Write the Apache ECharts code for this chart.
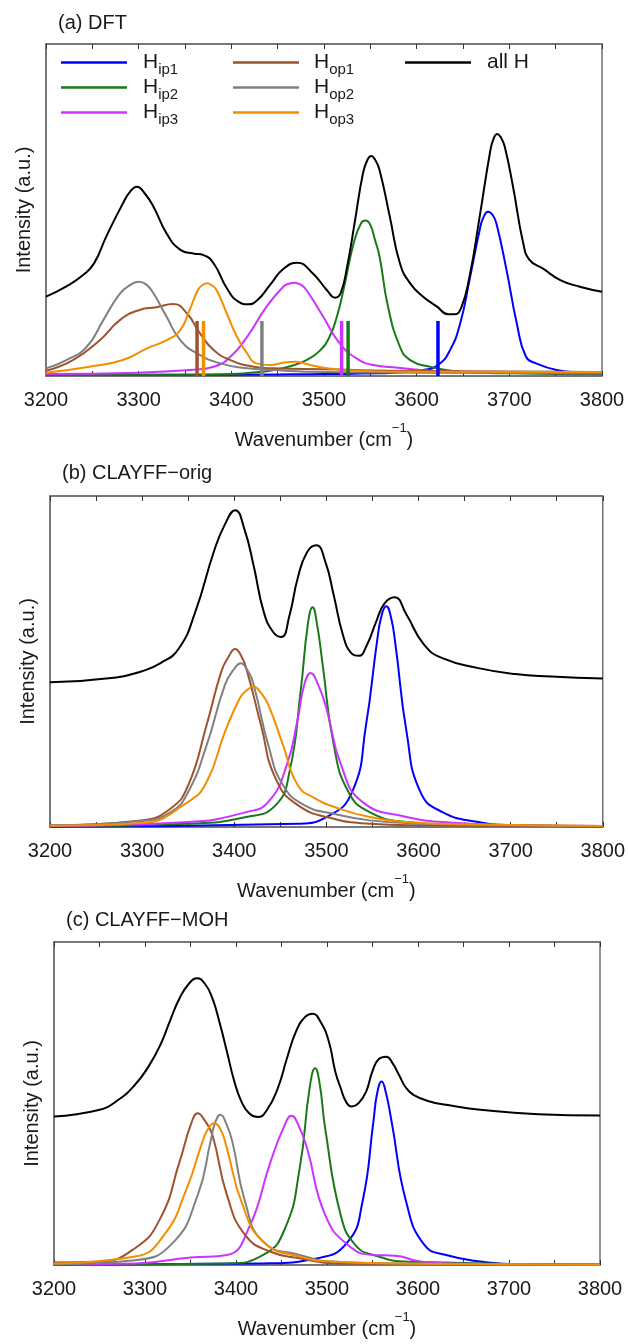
<!DOCTYPE html>
<html>
<head>
<meta charset="utf-8">
<script src="https://cdn.jsdelivr.net/npm/echarts@6/dist/echarts.min.js"></script>
<style>
html,body{margin:0;padding:0;background:#fff;}
#chart{width:628px;height:1344px;}
</style>
</head>
<body>
<div id="chart"></div>
<script>
// ---------- data ----------
const xMin = 3200, xMax = 3800, xStep = 50;
const panelTitles = ['(a) DFT', '(b) CLAYFF\u2212orig', '(c) CLAYFF\u2212MOH'];
const xAxisTitle = 'Wavenumber (cm';
const xAxisTitleSup = '\u22121';
const yAxisTitle = 'Intensity (a.u.)';
const seriesNames = ['Hip1', 'Hip2', 'Hip3', 'Hop1', 'Hop2', 'Hop3', 'all H'];

// Panel (a) DFT
const dftHip1 = [[3200,0.004],[3400,0.004],[3500,0.006],[3560,0.008],[3607,0.018],[3623,0.033],[3636,0.078],[3647,0.159],[3657,0.289],[3668,0.44],[3672,0.478],[3677,0.495],[3682,0.485],[3686,0.46],[3697,0.319],[3708,0.159],[3718,0.058],[3729,0.038],[3751,0.018],[3776,0.01],[3800,0.008]];
const dftHip2 = [[3200,0.003],[3350,0.004],[3400,0.006],[3430,0.012],[3450,0.02],[3470,0.035],[3481,0.048],[3495,0.075],[3506,0.118],[3514,0.18],[3521,0.259],[3532,0.40],[3540,0.46],[3545,0.468],[3550,0.455],[3555,0.41],[3560,0.359],[3569,0.21],[3582,0.088],[3593,0.048],[3614,0.028],[3650,0.013],[3700,0.008],[3800,0.005]];
const dftHip3 = [[3200,0.006],[3301,0.01],[3355,0.018],[3381,0.028],[3399,0.058],[3417,0.118],[3438,0.209],[3456,0.269],[3462,0.278],[3468,0.281],[3475,0.275],[3481,0.259],[3499,0.179],[3517,0.098],[3535,0.053],[3553,0.033],[3580,0.025],[3620,0.015],[3700,0.01],[3800,0.008]];
const dftHop1 = [[3200,0.016],[3229,0.048],[3258,0.108],[3280,0.169],[3301,0.199],[3319,0.207],[3337,0.217],[3352,0.189],[3366,0.129],[3381,0.078],[3399,0.048],[3424,0.028],[3445,0.023],[3500,0.02],[3600,0.015],[3800,0.012]];
const dftHop2 = [[3200,0.023],[3222,0.048],[3244,0.088],[3262,0.169],[3280,0.249],[3292,0.276],[3300,0.284],[3308,0.276],[3316,0.249],[3330,0.179],[3345,0.108],[3363,0.068],[3388,0.038],[3417,0.023],[3445,0.018],[3481,0.013],[3600,0.01],[3800,0.008]];
const dftHop3 = [[3200,0.01],[3247,0.028],[3283,0.048],[3309,0.083],[3332,0.11],[3345,0.139],[3355,0.199],[3364,0.259],[3369,0.274],[3374,0.279],[3379,0.273],[3384,0.259],[3395,0.189],[3406,0.118],[3417,0.068],[3427,0.038],[3442,0.033],[3456,0.04],[3469,0.043],[3481,0.036],[3503,0.023],[3535,0.016],[3600,0.013],[3800,0.012]];
const dftAllH = [[3200,0.239],[3222,0.27],[3240,0.304],[3252,0.34],[3265,0.42],[3283,0.52],[3291,0.556],[3298,0.570],[3306,0.552],[3316,0.51],[3330,0.43],[3345,0.38],[3359,0.369],[3370,0.364],[3381,0.339],[3395,0.265],[3408,0.223],[3418,0.216],[3428,0.228],[3442,0.275],[3456,0.322],[3471,0.341],[3488,0.309],[3503,0.259],[3512,0.236],[3518,0.25],[3525,0.33],[3533,0.46],[3542,0.61],[3547,0.652],[3551,0.663],[3555,0.652],[3560,0.62],[3571,0.48],[3582,0.339],[3593,0.279],[3607,0.239],[3622,0.209],[3634,0.186],[3641,0.186],[3648,0.205],[3657,0.299],[3668,0.48],[3679,0.671],[3683,0.715],[3687,0.729],[3691,0.718],[3695,0.691],[3704,0.57],[3715,0.4],[3722,0.349],[3736,0.324],[3755,0.289],[3776,0.269],[3800,0.254]];
// DFT stick spectrum (positions and owning series)
const stickPositions = [3363, 3370, 3433, 3519, 3526, 3623];
const stickOwners = ['Hop1', 'Hop3', 'Hop2', 'Hip3', 'Hip2', 'Hip1'];
const stickHeight = 0.166;

// Panel (b) CLAYFF-orig
const origHip1 = [[3200,0.001],[3469,0.01],[3500,0.03],[3528,0.106],[3543,0.308],[3555,0.561],[3560,0.64],[3565,0.667],[3570,0.635],[3575,0.551],[3587,0.288],[3602,0.106],[3626,0.045],[3665,0.015],[3705,0.005],[3800,0.002]];
const origHip2 = [[3200,0.002],[3350,0.01],[3413,0.03],[3445,0.066],[3460,0.167],[3472,0.409],[3480,0.615],[3485,0.664],[3490,0.61],[3496,0.49],[3508,0.248],[3524,0.106],[3547,0.045],[3587,0.015],[3650,0.006],[3800,0.002]];
const origHip3 = [[3200,0.003],[3350,0.015],[3413,0.045],[3437,0.076],[3457,0.187],[3469,0.328],[3476,0.43],[3483,0.465],[3491,0.43],[3500,0.359],[3516,0.187],[3539,0.076],[3587,0.03],[3626,0.015],[3700,0.006],[3800,0.003]];
const origHop1 = [[3200,0.005],[3299,0.02],[3331,0.056],[3350,0.126],[3370,0.308],[3386,0.47],[3394,0.515],[3401,0.538],[3407,0.52],[3413,0.48],[3429,0.308],[3445,0.146],[3469,0.066],[3508,0.025],[3547,0.01],[3600,0.005],[3800,0.002]];
const origHop2 = [[3200,0.005],[3299,0.018],[3331,0.045],[3350,0.106],[3370,0.247],[3390,0.43],[3400,0.478],[3407,0.495],[3414,0.475],[3421,0.43],[3437,0.247],[3453,0.126],[3476,0.066],[3508,0.04],[3547,0.02],[3600,0.01],[3800,0.003]];
const origHop3 = [[3200,0.004],[3299,0.012],[3350,0.076],[3370,0.136],[3390,0.288],[3406,0.389],[3413,0.412],[3421,0.424],[3429,0.405],[3437,0.369],[3453,0.247],[3469,0.126],[3488,0.086],[3508,0.061],[3547,0.03],[3587,0.015],[3650,0.008],[3800,0.003]];
const origAllH = [[3200,0.437],[3272,0.452],[3299,0.47],[3320,0.495],[3340,0.54],[3358,0.652],[3378,0.833],[3390,0.915],[3401,0.957],[3411,0.9],[3421,0.79],[3432,0.65],[3442,0.59],[3451,0.574],[3460,0.64],[3469,0.753],[3479,0.83],[3489,0.851],[3499,0.8],[3508,0.7],[3518,0.58],[3527,0.525],[3535,0.517],[3544,0.55],[3554,0.62],[3563,0.675],[3574,0.694],[3587,0.641],[3606,0.551],[3626,0.51],[3665,0.48],[3705,0.462],[3744,0.455],[3800,0.449]];

// Panel (c) CLAYFF-MOH
const mohHip1 = [[3200,0.001],[3430,0.005],[3490,0.021],[3523,0.072],[3539,0.196],[3551,0.444],[3555,0.53],[3560,0.568],[3565,0.53],[3571,0.444],[3587,0.196],[3607,0.062],[3631,0.031],[3671,0.01],[3710,0.002],[3800,0.001]];
const mohHip2 = [[3200,0.001],[3390,0.005],[3430,0.031],[3454,0.114],[3470,0.3],[3481,0.55],[3487,0.609],[3492,0.56],[3498,0.423],[3515,0.155],[3531,0.062],[3551,0.031],[3590,0.01],[3800,0.001]];
const mohHip3 = [[3200,0.002],[3289,0.005],[3350,0.023],[3390,0.031],[3414,0.114],[3438,0.32],[3453,0.43],[3461,0.462],[3469,0.43],[3478,0.362],[3498,0.155],[3523,0.062],[3551,0.031],[3575,0.029],[3600,0.012],[3631,0.005],[3800,0.001]];
const mohHop1 = [[3200,0.008],[3249,0.01],[3289,0.052],[3317,0.145],[3338,0.32],[3351,0.44],[3358,0.47],[3365,0.45],[3374,0.403],[3390,0.217],[3410,0.093],[3438,0.041],[3470,0.021],[3510,0.005],[3600,0.003],[3800,0.001]];
const mohHop2 = [[3200,0.003],[3289,0.015],[3330,0.067],[3358,0.217],[3372,0.382],[3377,0.44],[3383,0.465],[3389,0.44],[3396,0.382],[3410,0.196],[3430,0.072],[3470,0.031],[3510,0.01],[3600,0.004],[3800,0.001]];
const mohHop3 = [[3200,0.005],[3289,0.026],[3321,0.093],[3346,0.238],[3362,0.372],[3369,0.42],[3376,0.439],[3383,0.42],[3390,0.361],[3406,0.196],[3430,0.072],[3470,0.026],[3510,0.01],[3600,0.004],[3800,0.001]];
const mohAllH = [[3200,0.46],[3249,0.48],[3270,0.51],[3289,0.558],[3304,0.615],[3317,0.682],[3328,0.76],[3338,0.826],[3348,0.87],[3357,0.888],[3366,0.87],[3374,0.826],[3382,0.75],[3390,0.661],[3398,0.57],[3406,0.506],[3415,0.468],[3424,0.458],[3434,0.48],[3446,0.548],[3456,0.64],[3466,0.723],[3476,0.768],[3484,0.778],[3493,0.752],[3502,0.692],[3509,0.6],[3515,0.548],[3521,0.505],[3527,0.491],[3535,0.502],[3543,0.537],[3550,0.6],[3557,0.638],[3565,0.645],[3572,0.625],[3579,0.589],[3587,0.548],[3595,0.527],[3612,0.507],[3631,0.496],[3671,0.48],[3732,0.467],[3800,0.463]];

const panelData = [
  [dftHip1, dftHip2, dftHip3, dftHop1, dftHop2, dftHop3, dftAllH],
  [origHip1, origHip2, origHip3, origHop1, origHop2, origHop3, origAllH],
  [mohHip1, mohHip2, mohHip3, mohHop1, mohHop2, mohHop3, mohAllH]
];

// ---------- styles ----------
const colorMap = {Hip1:'#0000ff', Hip2:'#1a7a1a', Hip3:'#cc33ff', Hop1:'#a0522d', Hop2:'#808080', Hop3:'#f28e00', 'all H':'#000000'};
const FONT = '"Liberation Sans", Arial, Helvetica, sans-serif';
const TXT = '#1a1a1a';
const FRAME = '#707070';
const grids = [
  {left:46, top:44, width:556, height:332},
  {left:50, top:496, width:555, height:331},
  {left:54, top:942, width:546, height:323}
];
const titlePos = [{left:58, top:13}, {left:62, top:463}, {left:66, top:910}];

const chart = echarts.init(document.getElementById('chart'), null, {renderer:'canvas'});

const xAxes = [], yAxes = [], series = [];
grids.forEach((g, i) => {
  xAxes.push({
    type:'value', gridIndex:i, min:xMin, max:xMax, interval:xStep, position:'bottom',
    axisLine:{show:true, lineStyle:{color:FRAME, width:1.5}},
    axisTick:{show:true, inside:true, length:5, lineStyle:{color:'#333', width:1}},
    axisLabel:{show:true, margin:14, fontSize:20, color:TXT, fontFamily:FONT,
      formatter: v => (v % 100 === 0 ? String(v) : '')},
    splitLine:{show:false},
    name: '{n|' + xAxisTitle + '}{sup|' + xAxisTitleSup + '}{n|)}',
    nameLocation:'middle', nameGap:46,
    nameTextStyle:{fontFamily:FONT, color:TXT, rich:{
      n:{fontSize:20, fontFamily:FONT, color:TXT, lineHeight:28, verticalAlign:'bottom'},
      sup:{fontSize:13, fontFamily:FONT, color:TXT, lineHeight:14, verticalAlign:'top'}
    }}
  });
  xAxes.push({
    type:'value', gridIndex:i, min:xMin, max:xMax, interval:xStep, position:'top',
    axisLine:{show:true, lineStyle:{color:FRAME, width:1.5}},
    axisTick:{show:true, inside:true, length:5, lineStyle:{color:'#333', width:1}},
    axisLabel:{show:false}, splitLine:{show:false}
  });
  yAxes.push({
    type:'value', gridIndex:i, min:0, max:1,
    axisLine:{show:true, lineStyle:{color:FRAME, width:1.5}},
    axisTick:{show:false}, axisLabel:{show:false}, splitLine:{show:false},
    name:yAxisTitle, nameLocation:'middle', nameGap:12,
    nameTextStyle:{fontSize:20, color:TXT, fontFamily:FONT}
  });
  panelData[i].forEach((d, k) => {
    series.push({
      type:'line', name:seriesNames[k], xAxisIndex:2*i, yAxisIndex:i,
      data:d, smooth:0.5, showSymbol:false, symbol:'none', silent:true,
      lineStyle:{color:colorMap[seriesNames[k]], width:2},
      itemStyle:{color:colorMap[seriesNames[k]]},
      z: 2 + k
    });
  });
});
// stick spectrum in panel (a)
stickPositions.forEach((p, j) => {
  series.push({
    type:'line', name:'stick' + j, xAxisIndex:0, yAxisIndex:0,
    data:[[p, 0], [p, stickHeight]], showSymbol:false, symbol:'none', silent:true,
    lineStyle:{color:colorMap[stickOwners[j]], width:3.5, cap:'butt'}, z:10
  });
});

// legends (one per entry, placed in three columns)
const legendCols = [
  {left:61, names:['Hip1','Hip2','Hip3'], pad:11},
  {left:233, names:['Hop1','Hop2','Hop3'], pad:10},
  {left:405, names:['all H'], pad:11}
];
const legendRowY = [67, 92, 117];
const legends = [];
legendCols.forEach(col => {
  col.names.forEach((nm, r) => {
    legends.push({
      show:true, data:[{name:nm, icon:'rect'}], left:col.left, top:legendRowY[r] - 15,
      padding:0, itemWidth:66, itemHeight:2.5, selectedMode:false, orient:'horizontal',
      formatter: name => name === 'all H' ? '{m|all H}' : '{m|H}{s|' + name.slice(1) + '}',
      textStyle:{padding:[0,0,0,col.pad], fontFamily:FONT, color:TXT, rich:{
        m:{fontSize:21, fontFamily:FONT, color:TXT, lineHeight:30, verticalAlign:'middle'},
        s:{fontSize:15, fontFamily:FONT, color:TXT, lineHeight:16, verticalAlign:'bottom'}
      }}
    });
  });
});

const titles = panelTitles.map((t, i) => ({
  text:t, left:titlePos[i].left, top:titlePos[i].top, padding:0,
  textStyle:{fontSize:20, fontWeight:'normal', color:TXT, fontFamily:FONT}
}));

chart.setOption({
  backgroundColor:'#ffffff',
  animation:false,
  title:titles,
  legend:legends,
  grid:grids.map(g => Object.assign({show:true, borderColor:FRAME, borderWidth:1.5, containLabel:false}, g)),
  xAxis:xAxes,
  yAxis:yAxes,
  series:series
});
</script>
</body>
</html>
